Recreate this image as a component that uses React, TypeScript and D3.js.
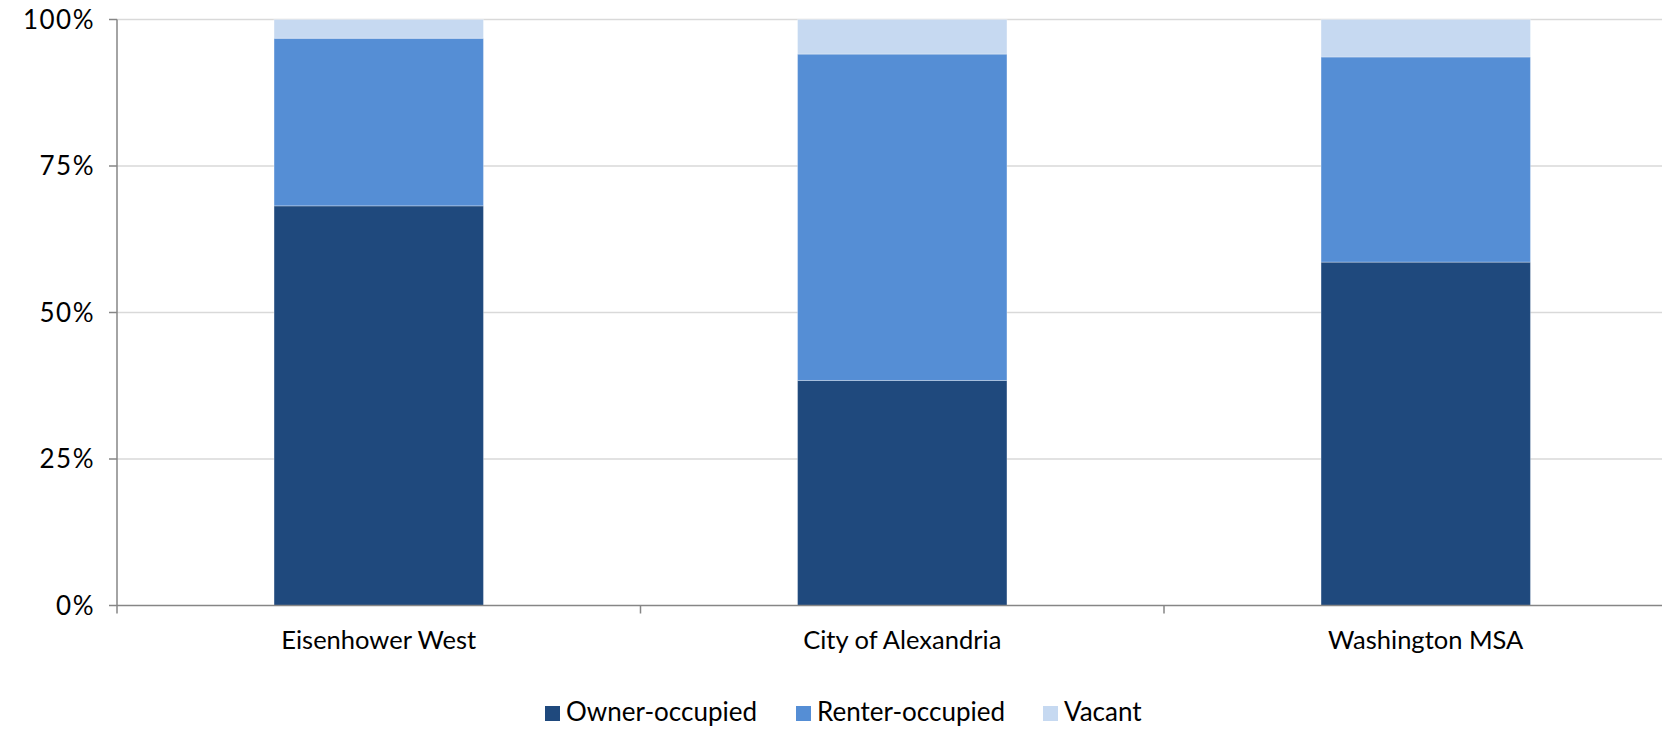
import { useEffect } from "react";
import * as d3 from "d3";

const categories = ["Eisenhower West", "City of Alexandria", "Washington MSA"];
const seriesNames = ["Owner-occupied", "Renter-occupied", "Vacant"];
const ownerOccupied = [0.682, 0.384, 0.586];
const renterOccupied = [0.286, 0.557, 0.35];
const vacant = [0.032, 0.059, 0.064];
const yTicks = [0, 0.25, 0.5, 0.75, 1];

const colors = ["#1F497D", "#558ED5", "#C6D9F1"];

const W = 1662,
  H = 729;
const left = 117,
  top = 19.5,
  bottom = 605.5;
// the plot area runs past the right edge of the picture (cropped in the source)
const plotRight = left + 3 * 523.5;
const FONT = "Lato, 'Open Sans', sans-serif";

export default function App() {
  useEffect(() => {
    document.body.style.margin = "0";
  }, []);

  const x = d3
    .scaleBand<string>()
    .domain(categories)
    .range([left, plotRight])
    .paddingInner(0.6)
    .paddingOuter(0.3);
  const y = d3.scaleLinear().domain([0, 1]).range([bottom, top]);

  const rows = categories.map((c, i) => ({
    cat: c,
    "Owner-occupied": ownerOccupied[i],
    "Renter-occupied": renterOccupied[i],
    Vacant: vacant[i],
  }));
  const stacked = d3.stack<any>().keys(seriesNames)(rows);

  const step = x.step();
  const boundaries = [0, 1, 2, 3].map((i) => left + i * step);
  const legendX = [545, 796, 1043];

  return (
    <svg width={W} height={H} style={{ position: "absolute", left: 0, top: 0, background: "#fff" }}>
      {yTicks
        .filter((t) => t > 0)
        .map((t) => (
          <line key={"g" + t} x1={left} x2={W} y1={y(t)} y2={y(t)} stroke="#D9D9D9" strokeWidth={1.5} />
        ))}
      {stacked.map((s, si) => (
        <g key={s.key} fill={colors[si]}>
          {s.map((d, i) => (
            <rect
              key={i}
              x={x(categories[i])}
              width={x.bandwidth()}
              y={y(d[1])}
              height={y(d[0]) - y(d[1])}
              stroke="rgba(255,255,255,0.3)"
              strokeWidth={1}
            />
          ))}
        </g>
      ))}
      {/* y axis */}
      <line x1={left} x2={left} y1={top} y2={bottom} stroke="#868686" strokeWidth={1.5} />
      {yTicks.map((t) => (
        <g key={"t" + t}>
          <line x1={left - 8} x2={left} y1={y(t)} y2={y(t)} stroke="#868686" strokeWidth={1.5} />
          <text
            x={95}
            y={y(t)}
            dy="0.36em"
            textAnchor="end"
            fontFamily={FONT}
            fontSize={26}
            letterSpacing={1.5}
            fill="#000"
          >
            {d3.format(".0%")(t)}
          </text>
        </g>
      ))}
      {/* x axis */}
      <line x1={left} x2={W} y1={bottom} y2={bottom} stroke="#868686" strokeWidth={1.5} />
      {boundaries.map((b, i) => (
        <line key={"b" + i} x1={b} x2={b} y1={bottom} y2={bottom + 8} stroke="#868686" strokeWidth={1.5} />
      ))}
      {categories.map((c) => (
        <text
          key={c}
          x={(x(c) ?? 0) + x.bandwidth() / 2}
          y={649}
          textAnchor="middle"
          fontFamily={FONT}
          fontSize={25.5}
          fill="#000"
        >
          {c}
        </text>
      ))}
      {/* legend */}
      {seriesNames.map((n, i) => (
        <g key={n} transform={`translate(${legendX[i]},0)`}>
          <rect x={0} y={706} width={15} height={15} fill={colors[i]} />
          <text x={21} y={721} fontFamily={FONT} fontSize={26} fill="#000">
            {n}
          </text>
        </g>
      ))}
    </svg>
  );
}
